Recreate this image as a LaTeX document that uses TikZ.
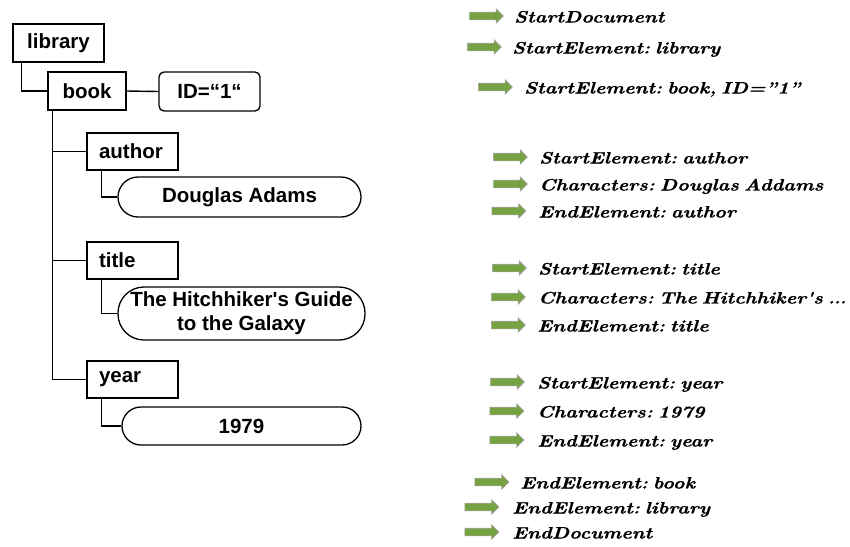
\documentclass[tikz,border=0pt]{standalone}
\usepackage{fontspec}
\newfontfamily\treefont{Liberation Sans}
\newfontfamily\evfont{lmroman10-bolditalic.otf}[FakeStretch=1.2, FakeBold=0.8]
\usetikzlibrary{shapes.arrows}
\definecolor{evgreen}{RGB}{119,162,66}
\definecolor{evedge}{RGB}{165,165,165}
\newcommand\evspacing{\frenchspacing\spaceskip=5pt\relax}
\tikzset{
  treeline/.style={line width=1.4pt, draw=black},
  elembox/.style={draw=black, line width=1.3pt, rectangle, inner sep=0pt,
    font=\treefont\bfseries\fontsize{20.5}{24}\selectfont},
  leftbox/.style={elembox, minimum height=37pt, text width=67pt, align=left,
    inner xsep=12pt},
  attrbox/.style={elembox, rounded corners=5pt},
  textpill/.style={elembox, rounded corners=#1, align=center},
  evarrow/.style={single arrow, fill=evgreen, draw=evedge, line width=0.6pt,
    minimum height=34pt, inner xsep=0pt, inner ysep=3.5pt,
    single arrow head extend=3.5pt, single arrow head indent=0pt,
    text height=0pt, text depth=0pt},
  evtext/.style={anchor=base west, inner sep=0pt,
    font=\evfont\fontsize{16.5}{19}\selectfont,
    execute at begin node=\evspacing}
}
% a tight row of three dots
\newcommand\evdots{.\kern-1.2pt.\kern-1.2pt.}
\begin{document}
\begin{tikzpicture}[x=1pt, y=-1pt]
  \path[use as bounding box] (0,0) rectangle (850,546);

  % element tree
  \node[elembox, minimum width=91pt, minimum height=38pt] (lib) at (58.5,43) {library};
  \node[elembox, minimum width=78pt, minimum height=38pt] (book) at (87,91) {book};
  \node[attrbox, minimum width=101pt, minimum height=39pt] (id) at (209.5,91.5) {ID=“1“};
  \node[leftbox] (author) at (132.5,151.5) {author};
  \node[leftbox] (title) at (132.5,260.5) {title};
  \node[leftbox] (year) at (132.5,379.5) {year};
  \node[textpill=20pt, minimum width=243pt, minimum height=40pt] (dougl) at (239.5,197) {Douglas Adams};
  \node[textpill=26pt, minimum width=247pt, minimum height=53pt] (hitch) at (241.5,313.5)
    {The Hitchhiker's Guide\\to the Galaxy};
  \node[textpill=19pt, minimum width=239pt, minimum height=38pt] (yr) at (241.5,426) {1979};

  % tree connectors
  \draw[treeline] ([xshift=9pt]lib.south west) |- (book.west);
  \draw[treeline] (book.east) -- (id.west);
  \draw[treeline] ([xshift=5pt]book.south west) |- (author.west);
  \draw[treeline] ([xshift=5pt]book.south west) |- (title.west);
  \draw[treeline] ([xshift=5pt]book.south west) |- (year.west);
  \draw[treeline] ([xshift=15pt]author.south west) |- (dougl.west);
  \draw[treeline] ([xshift=15pt]title.south west) |- (hitch.west);
  \draw[treeline] ([xshift=15pt]year.south west) |- (yr.west);

  % parser events
  \foreach \n/\ax/\ay/\tx/\label in {
      1/484.5/16/514/{StartDocument},
      2/482.5/47/512/{StartElement: library},
      3/493.5/87/524/{StartElement: book, ID=”1”},
      4/508.5/157/539/{StartElement: author},
      5/508.5/184/539/{Characters: Douglas Addams},
      6/507/211/538/{EndElement: author},
      7/507.5/268/538/{StartElement: title},
      8/506.5/297/538/{Characters: The Hitchhiker's \evdots},
      9/506.5/325/537/{EndElement: title},
      10/505.5/382/537/{StartElement: year},
      11/505/411/537/{Characters: 1979},
      12/505/440/537/{EndElement: year},
      13/490/482/520/{EndElement: book},
      14/480/507/512/{EndElement: library},
      15/480/532/512/{EndDocument}} {
    \node[evarrow] (a\n) at (\ax,\ay) {};
    \node[evtext] (t\n) at (\tx,\ay+6.5) {\label};
  }
\end{tikzpicture}
\end{document}
